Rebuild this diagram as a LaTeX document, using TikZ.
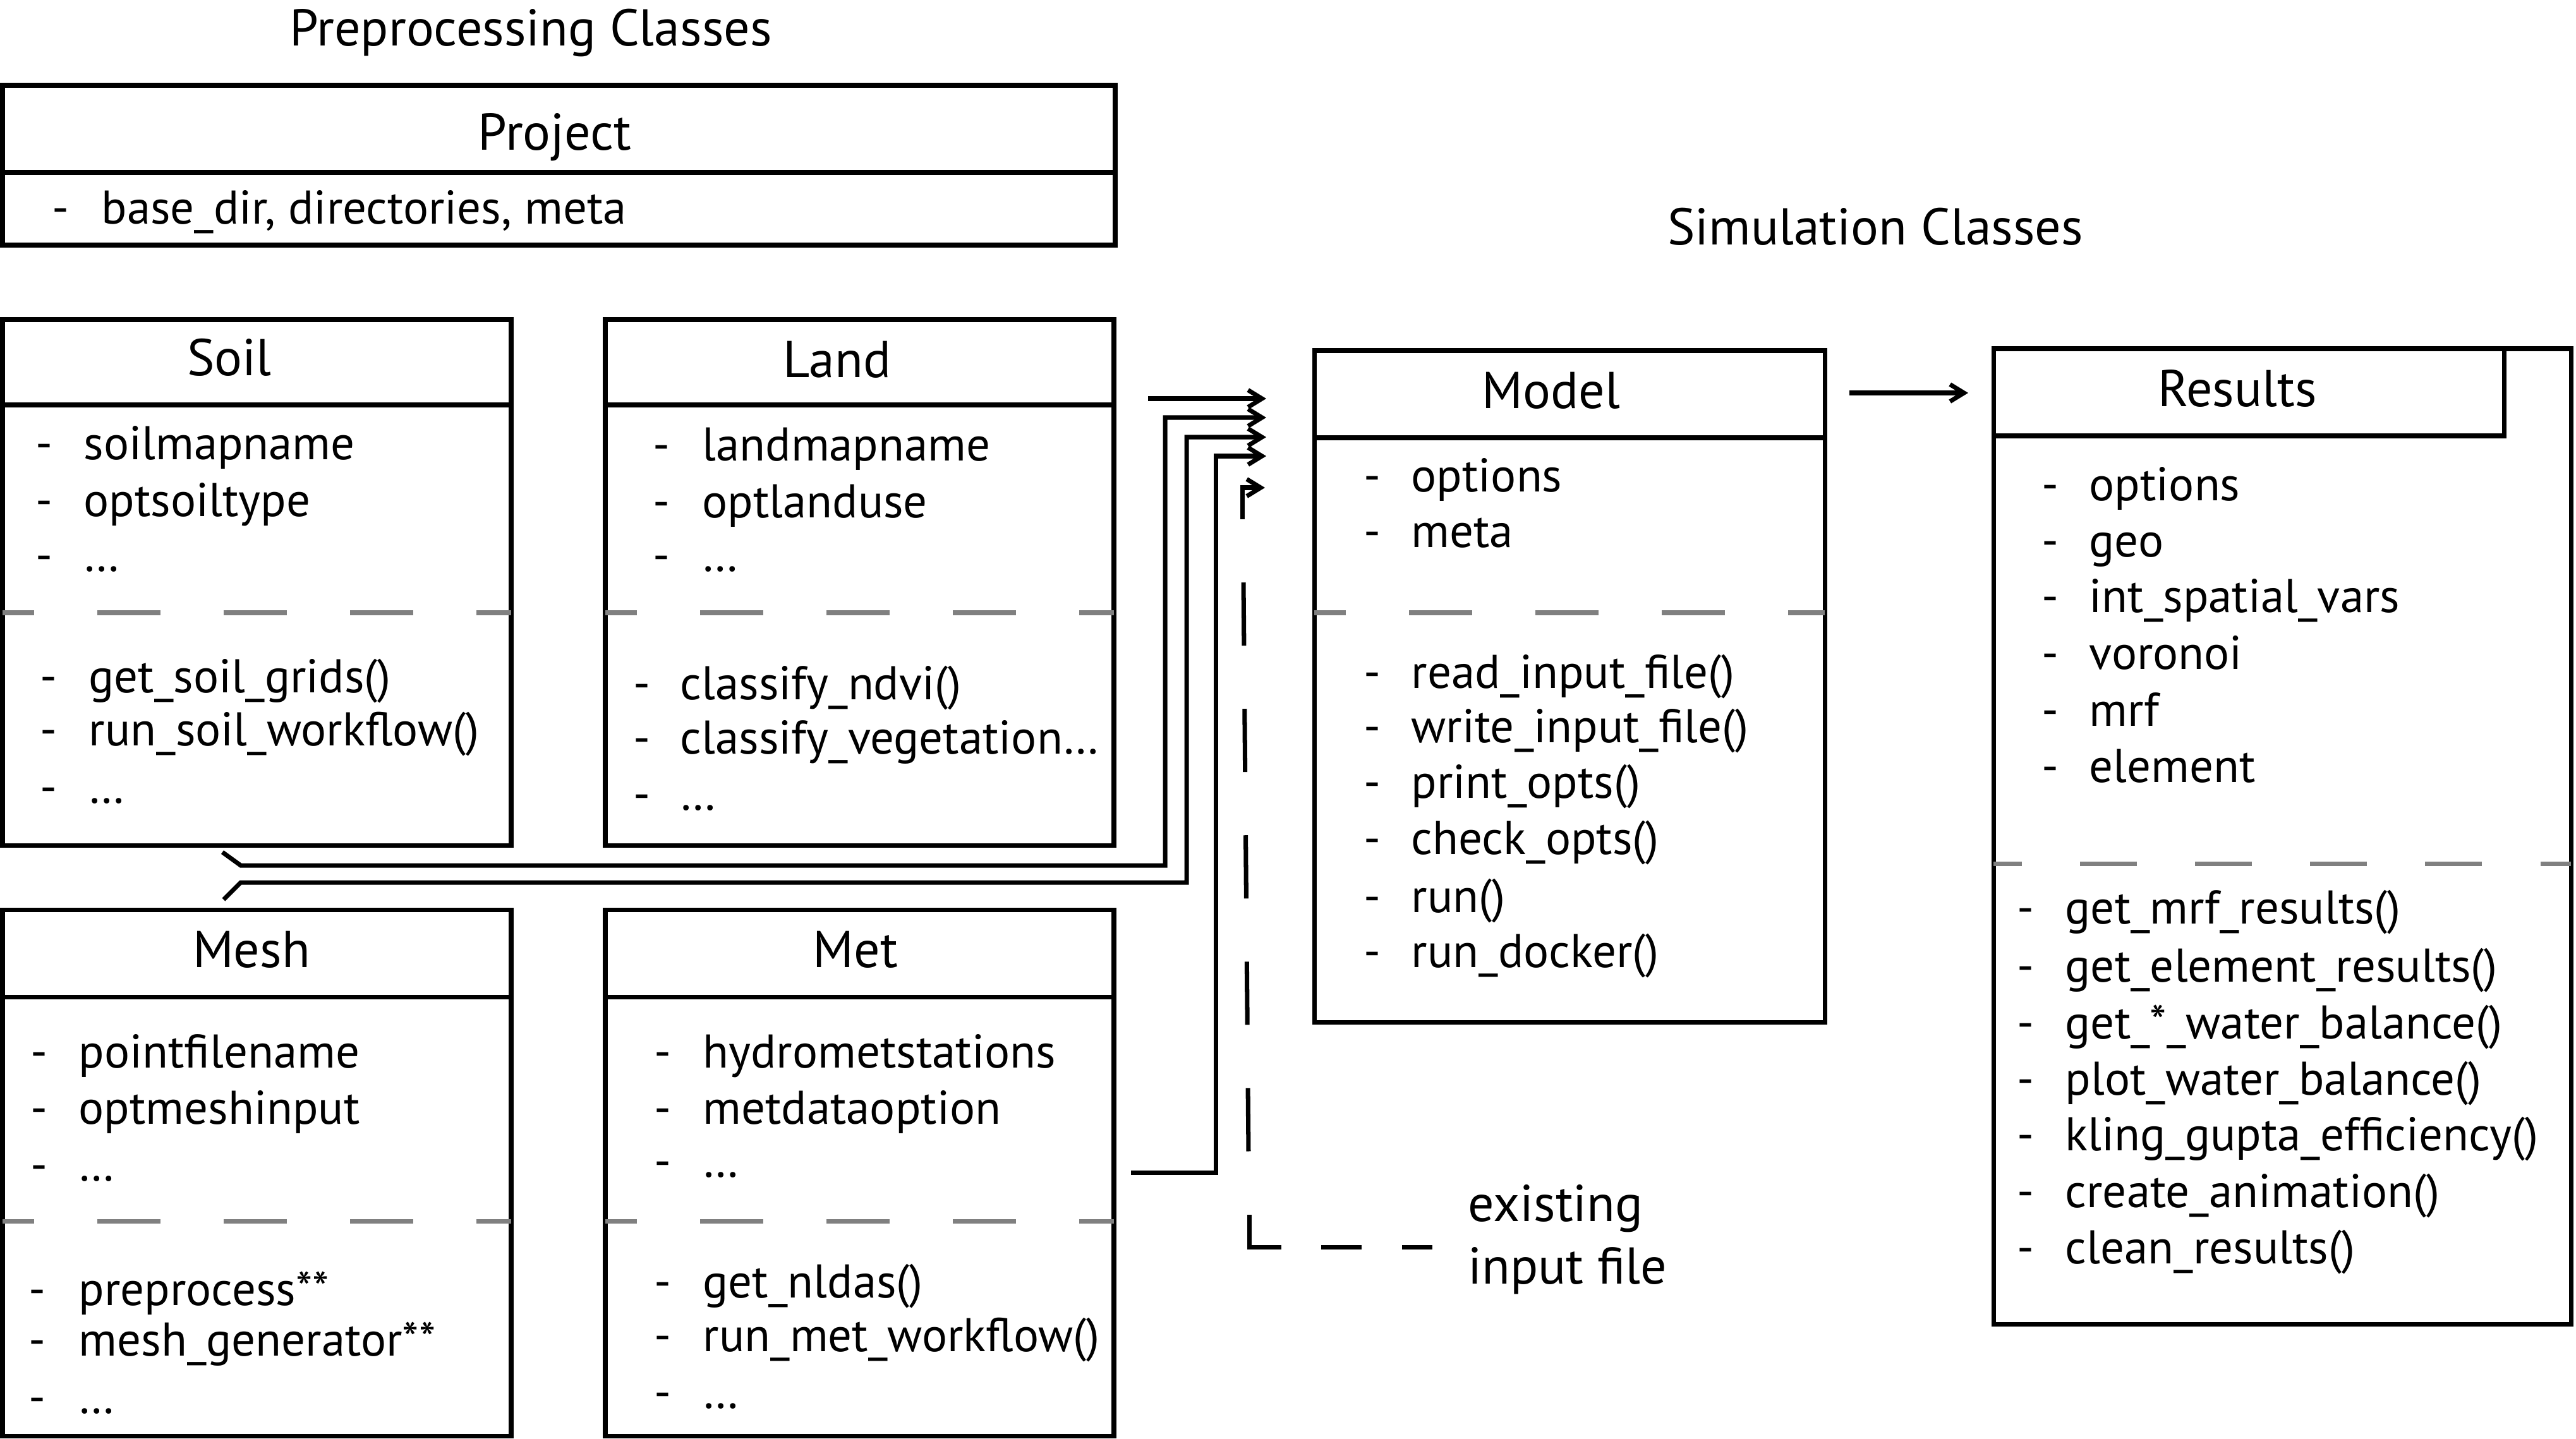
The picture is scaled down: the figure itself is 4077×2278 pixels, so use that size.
\documentclass[tikz,border=0pt]{standalone}
\usepackage{fontspec}
\setmainfont{PT Sans}
\usetikzlibrary{arrows.meta,fit}
\definecolor{sepgray}{RGB}{128,128,128}
\newcommand{\ttlfont}{\fontsize{23.3}{28}\selectfont}
\newcommand{\itmfont}{\fontsize{21.3}{25}\selectfont}
\newcommand{\entry}[5]{%
  \node[bul] (#1d) at (#2,#4) {-};
  \node[itm] (#1) at (#3,#4) {#5};}
\tikzset{
  box/.style={draw, line width=2pt, inner sep=0pt},
  ln/.style={line width=2pt},
  sepline/.style={draw=sepgray, line width=2pt, dash pattern=on 1cm off 1cm, dash phase=0.5cm},
  sepres/.style={draw=sepgray, line width=2pt, dash pattern=on 0.9cm off 0.92cm, dash phase=0.45cm},
  ttl/.style={font=\ttlfont, anchor=base, inner sep=0pt},
  itm/.style={font=\itmfont, anchor=base west, inner sep=0pt},
  bul/.style={font=\itmfont, anchor=base, inner sep=0pt},
  conn/.style={line width=2pt, -{Straight Barb[length=2.2mm,width=2.7mm]}},
}
\begin{document}
\begin{tikzpicture}[x=0.01cm,y=-0.01cm]
\useasboundingbox (0,0) rectangle (4077,2278);

% section titles
\node[ttl] (pretitle) at (840,72) {Preprocessing Classes};
\node[ttl] (simtitle) at (2968,387) {Simulation Classes};

% Project
\node[box, fit={(4,135) (1765,388)}] (project) {};
\draw[ln] (4,273) -- (1765,273);
\node[ttl] (projectt) at (878,237) {Project};
\entry{proja}{96}{160}{354}{base\_dir, directories, meta}

% Soil
\node[box, fit={(4,506) (809,1338)}] (soil) {};
\draw[ln] (4,641) -- (809,641);
\draw[sepline] (4,970) -- (809,970);
\node[ttl] (soilt) at (363,594) {Soil};
\entry{soila}{70}{132}{727}{soilmapname}
\entry{soilb}{70}{132}{817}{optsoiltype}
\entry{soilc}{70}{132}{904}{\dots}
\entry{soild}{77}{140}{1096}{get\_soil\_grids()}
\entry{soile}{77}{140}{1180}{run\_soil\_workflow()}
\entry{soilf}{77}{140}{1271}{\dots}

% Land
\node[box, fit={(958,506) (1763,1338)}] (land) {};
\draw[ln] (958,641) -- (1763,641);
\draw[sepline] (958,970) -- (1763,970);
\node[ttl] (landt) at (1325,597) {Land};
\entry{landa}{1047}{1111}{729}{landmapname}
\entry{landb}{1047}{1111}{819}{optlanduse}
\entry{landc}{1047}{1111}{904}{\dots}
\entry{landd}{1016}{1076}{1107}{classify\_ndvi()}
\entry{lande}{1016}{1076}{1193}{classify\_vegetation\dots}
\entry{landf}{1016}{1076}{1282}{\dots}

% Mesh
\node[box, fit={(4,1440) (809,2273)}] (mesh) {};
\draw[ln] (4,1578) -- (809,1578);
\draw[sepline] (4,1933) -- (809,1933);
\node[ttl] (mesht) at (398,1531) {Mesh};
\entry{mesha}{62}{124}{1690}{pointfilename}
\entry{meshb}{62}{124}{1779}{optmeshinput}
\entry{meshc}{62}{124}{1869}{\dots}
\entry{meshd}{59}{124}{2066}{preprocess**}
\entry{meshe}{59}{124}{2146}{mesh\_generator**}
\entry{meshf}{59}{124}{2237}{\dots}

% Met
\node[box, fit={(958,1440) (1763,2273)}] (met) {};
\draw[ln] (958,1578) -- (1763,1578);
\draw[sepline] (958,1933) -- (1763,1933);
\node[ttl] (mett) at (1354,1531) {Met};
\entry{meta}{1049}{1112}{1690}{hydrometstations}
\entry{metb}{1049}{1112}{1779}{metdataoption}
\entry{metc}{1049}{1112}{1863}{\dots}
\entry{metd}{1049}{1112}{2054}{get\_nldas()}
\entry{mete}{1049}{1112}{2139}{run\_met\_workflow()}
\entry{metf}{1049}{1112}{2229}{\dots}

% Model
\node[box, fit={(2080,555) (2888,1618)}] (model) {};
\draw[ln] (2080,693) -- (2888,693);
\draw[sepline] (2080,970) -- (2888,970);
\node[ttl] (modelt) at (2455,646) {Model};
\entry{moda}{2172}{2233}{778}{options}
\entry{modb}{2172}{2233}{866}{meta}
\entry{modc}{2172}{2233}{1089}{read\_input\_file()}
\entry{modd}{2172}{2233}{1175}{write\_input\_file()}
\entry{mode}{2172}{2233}{1263}{print\_opts()}
\entry{modf}{2172}{2233}{1352}{check\_opts()}
\entry{modg}{2172}{2233}{1444}{run()}
\entry{modh}{2172}{2233}{1531}{run\_docker()}

% Results
\node[box, fit={(3155,552) (4069,2096)}] (results) {};
\draw[ln] (3155,690) -- (3963,690) -- (3963,552);
\draw[sepres] (3155,1367) -- (4069,1367);
\node[ttl] (resultst) at (3541,643) {Results};
\entry{resa}{3245}{3306}{792}{options}
\entry{resb}{3245}{3306}{881}{geo}
\entry{resc}{3245}{3306}{969}{int\_spatial\_vars}
\entry{resd}{3245}{3306}{1059}{voronoi}
\entry{rese}{3245}{3306}{1149}{mrf}
\entry{resf}{3245}{3306}{1238}{element}
\entry{resg}{3206}{3268}{1462}{get\_mrf\_results()}
\entry{resh}{3206}{3268}{1554}{get\_element\_results()}
\entry{resi}{3206}{3268}{1644}{get\_*\_water\_balance()}
\entry{resj}{3206}{3268}{1733}{plot\_water\_balance()}
\entry{resk}{3206}{3268}{1821}{kling\_gupta\_efficiency()}
\entry{resl}{3206}{3268}{1911}{create\_animation()}
\entry{resm}{3206}{3268}{2000}{clean\_results()}

% existing input file label
\node[ttl, anchor=base west] (exist1) at (2323,1933) {existing};
\node[ttl, anchor=base west] (exist2) at (2323,2032) {input file};

% connector coordinates
\coordinate (landsrc) at (1817,631);
\coordinate (soilsrc) at (352,1349);
\coordinate (meshsrc) at (354,1424);
\coordinate (metsrc) at (1790,1856);
\coordinate (filesrc) at (1966,822);
\coordinate (tip1) at (2004,631);
\coordinate (tip2) at (2004,661);
\coordinate (tip3) at (2004,692);
\coordinate (tip4) at (2004,722);
\coordinate (tip5) at (2002,772);
\coordinate (modelsrc) at (2927,622);
\coordinate (restip) at (3115,622);
\coordinate (filecorner) at (1977,1974);

\draw[conn] (landsrc) -- (tip1);
\draw[conn] (soilsrc) -- ++(29,21) -- (1844,1370) |- (tip2);
\draw[conn] (meshsrc) -- ++(27,-27) -- (1878,1397) |- (tip3);
\draw[conn] (metsrc) -- (1924,1856) |- (tip4);
\draw[conn] (filesrc) |- (tip5);
\draw[ln, dash pattern=on 1cm off 1cm] (1968,922) -- (1976,1824);
\draw[ln] (1977,1923) -- (filecorner) -- (2028,1974);
\draw[ln, dash pattern=on 0.64cm off 0.64cm] (2091,1974) -- (2267,1974);
\draw[conn] (modelsrc) -- (restip);
\end{tikzpicture}
\end{document}
